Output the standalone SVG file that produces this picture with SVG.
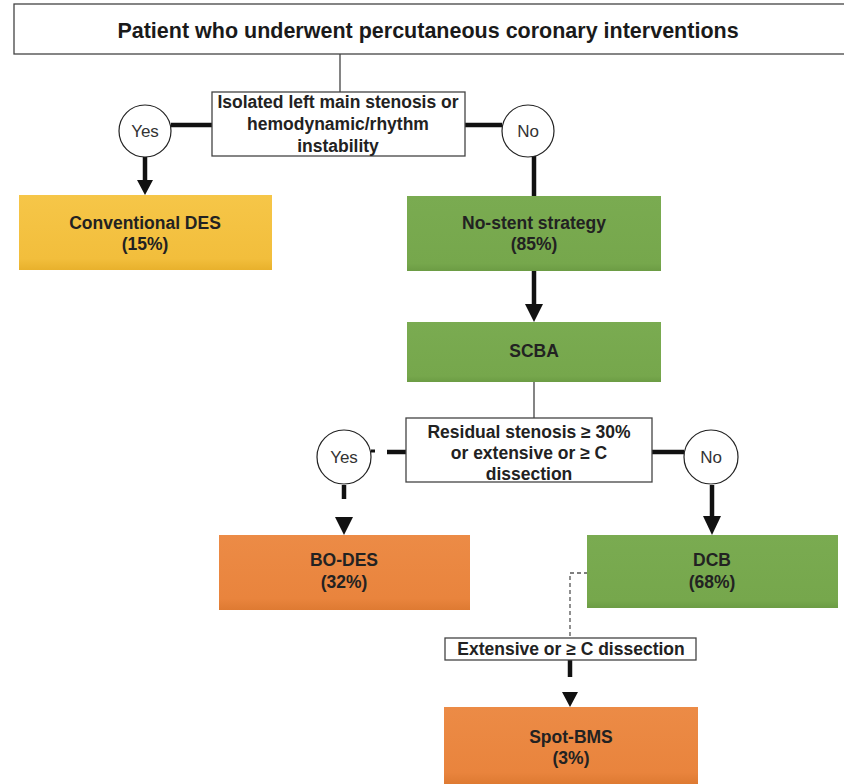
<svg xmlns="http://www.w3.org/2000/svg" width="844" height="784" viewBox="0 0 844 784">
<defs>
<linearGradient id="gY" x1="0" y1="0" x2="0" y2="1"><stop offset="0" stop-color="#F6C648"/><stop offset="0.85" stop-color="#F2BE3C"/><stop offset="1" stop-color="#E8B12C"/></linearGradient>
<linearGradient id="gG" x1="0" y1="0" x2="0" y2="1"><stop offset="0" stop-color="#7AAB51"/><stop offset="0.9" stop-color="#76A74C"/><stop offset="1" stop-color="#6C9C44"/></linearGradient>
<linearGradient id="gO" x1="0" y1="0" x2="0" y2="1"><stop offset="0" stop-color="#EC8B46"/><stop offset="0.85" stop-color="#E9843D"/><stop offset="1" stop-color="#DE7A32"/></linearGradient>
<style>
.t{font-family:"Liberation Sans",Arial,sans-serif;font-weight:bold;font-size:17.5px;fill:#222;text-anchor:middle}
.title{font-family:"Liberation Sans",Arial,sans-serif;font-weight:bold;font-size:21.5px;fill:#1a1a1a;text-anchor:middle}
.c{font-family:"Liberation Sans",Arial,sans-serif;font-size:17px;fill:#333;text-anchor:middle}
.wb{fill:#fff;stroke:#444;stroke-width:1.3}
.circ{fill:#fff;stroke:#222;stroke-width:1.2}
.thick{stroke:#111;stroke-width:4.5;fill:none}
.thin{stroke:#333;stroke-width:1.2;fill:none}
.dash{stroke:#555;stroke-width:1.3;fill:none;stroke-dasharray:4 3}
.head{fill:#111}
</style>
</defs>
<rect width="844" height="784" fill="#fff"/>
<g id="connectors">
<line class="thin" x1="340" y1="54" x2="340" y2="92"/>
<line class="thick" x1="171" y1="125" x2="212" y2="125"/>
<line class="thick" x1="465" y1="125" x2="502" y2="125"/>
<line class="thick" x1="145" y1="157" x2="145" y2="182"/>
<polygon class="head" points="137,180 153,180 145,195"/>
<line class="thick" x1="534" y1="156" x2="534" y2="197"/>
<line class="thick" x1="534" y1="271" x2="534" y2="308"/>
<polygon class="head" points="525,304 543,304 534,322"/>
<line class="thin" x1="534" y1="382" x2="534" y2="418"/>
<line class="thick" x1="387" y1="452" x2="406" y2="452"/>
<line class="thick" x1="371" y1="451" x2="375" y2="451" style="stroke-width:3"/>
<line class="thick" x1="652" y1="452" x2="684" y2="452"/>
<line class="thick" x1="344" y1="485" x2="344" y2="499"/>
<polygon class="head" points="335,517 353,517 344,535"/>
<line class="thick" x1="712" y1="485" x2="712" y2="520"/>
<polygon class="head" points="703,516 721,516 712,535"/>
<polyline class="dash" points="588,573 570,573 570,638"/>
<line class="thick" x1="570" y1="660" x2="570" y2="677"/>
<polygon class="head" points="562,692 578,692 570,707"/>
</g>
<g id="n-title">
<rect class="wb" x="14" y="4" width="840" height="50"/>
<text class="title" x="428" y="38">Patient who underwent percutaneous coronary interventions</text>
</g>
<g id="n-decision1">
<rect class="wb" x="212" y="92" width="253" height="64"/>
<text class="t" x="338" y="108">Isolated left main stenosis or</text>
<text class="t" x="338" y="130">hemodynamic/rhythm</text>
<text class="t" x="338" y="152">instability</text>
</g>
<g id="n-yes1">
<circle class="circ" cx="145" cy="131" r="26"/>
<text class="c" x="145" y="137">Yes</text>
</g>
<g id="n-no1">
<circle class="circ" cx="528" cy="131" r="26"/>
<text class="c" x="528" y="137">No</text>
</g>
<g id="n-des">
<rect x="19" y="195" width="253" height="75" fill="url(#gY)"/>
<text class="t" x="145" y="229">Conventional DES</text>
<text class="t" x="145" y="250">(15%)</text>
</g>
<g id="n-nostent">
<rect x="407" y="196" width="254" height="75" fill="url(#gG)"/>
<text class="t" x="534" y="229">No-stent strategy</text>
<text class="t" x="534" y="250">(85%)</text>
</g>
<g id="n-scba">
<rect x="407" y="322" width="254" height="60" fill="url(#gG)"/>
<text class="t" x="534" y="357">SCBA</text>
</g>
<g id="n-decision2">
<rect class="wb" x="406" y="418" width="246" height="64"/>
<text class="t" x="529" y="438">Residual stenosis ≥ 30%</text>
<text class="t" x="529" y="459">or extensive or ≥ C</text>
<text class="t" x="529" y="480">dissection</text>
</g>
<g id="n-yes2">
<circle class="circ" cx="344" cy="457" r="27"/>
<text class="c" x="344" y="463">Yes</text>
</g>
<g id="n-no2">
<circle class="circ" cx="711" cy="457" r="27"/>
<text class="c" x="711" y="463">No</text>
</g>
<g id="n-bodes">
<rect x="219" y="535" width="251" height="75" fill="url(#gO)"/>
<text class="t" x="344" y="566">BO-DES</text>
<text class="t" x="344" y="588">(32%)</text>
</g>
<g id="n-dcb">
<rect x="587" y="535" width="251" height="73" fill="url(#gG)"/>
<text class="t" x="712" y="566">DCB</text>
<text class="t" x="712" y="588">(68%)</text>
</g>
<g id="n-label">
<rect class="wb" x="445" y="638" width="251" height="22"/>
<text class="t" x="571" y="655">Extensive or ≥ C dissection</text>
</g>
<g id="n-spotbms">
<rect x="444" y="707" width="254" height="77" fill="url(#gO)"/>
<text class="t" x="571" y="743">Spot-BMS</text>
<text class="t" x="571" y="764">(3%)</text>
</g>
</svg>
